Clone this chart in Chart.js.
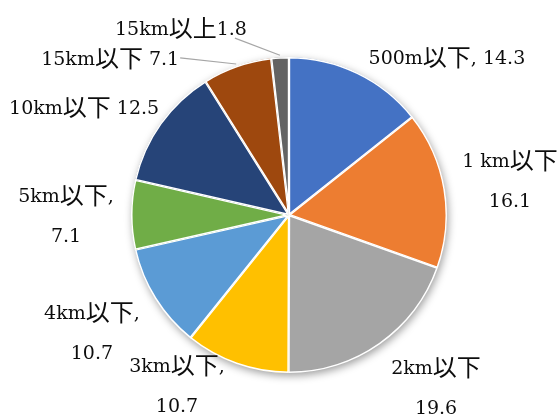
<!DOCTYPE html>
<html>
<head>
<meta charset="utf-8">
<script src="https://cdn.jsdelivr.net/npm/chart.js@4/dist/chart.umd.min.js"></script>
<style>
  html, body { margin: 0; padding: 0; background: #fff; }
  #wrap { width: 557px; height: 417px; }
</style>
</head>
<body>
<div id="wrap"><canvas id="c" width="557" height="417"></canvas></div>
<script>
// Distance bands and their shares (%)
const categories = ['500m以下', '1 km以下', '2km以下', '3km以下', '4km以下', '5km以下', '10km以下', '15km以下', '15km以上'];
const shares = [14.3, 16.1, 19.6, 10.7, 10.7, 7.1, 12.5, 7.1, 1.8];
// Text placed between the band name and its value in each label
const separators = [', ', '\n', '\n', ',\n', ',\n', ',\n', ' ', ' ', ''];

const sliceColors = ['#4472C4', '#ED7D31', '#A5A5A5', '#FFC000', '#5B9BD5', '#70AD47', '#264478', '#9E480E', '#636363'];

// Label placement: [angle nudge in degrees, distance as a multiple of the radius, leader line]
const labelPlacement = [
  [19.2, 1.414, false], [0.5, 1.416, false], [-5.4, 1.432, false],
  [13.9, 1.289, false], [1.2, 1.452, false], [-0.1, 1.411, false],
  [-7.6, 1.466, false], [-29.4, 1.507, true], [-26.8, 1.366, true]
];

const LATIN_FONT = "19px 'DejaVu Serif', 'Liberation Serif', serif";
const CJK_FONT = "24px 'Noto Sans CJK JP', 'Noto Sans CJK SC', sans-serif";
const LINE_GAP = 40;

function splitRuns(text) {
  const runs = [];
  for (const ch of text) {
    const cjk = /[\u3000-\u9fff\uff00-\uffef]/.test(ch);
    if (runs.length && runs[runs.length - 1].cjk === cjk) runs[runs.length - 1].t += ch;
    else runs.push({ t: ch, cjk });
  }
  return runs;
}

function measureMixed(ctx, text) {
  let w = 0;
  for (const r of splitRuns(text)) {
    ctx.font = r.cjk ? CJK_FONT : LATIN_FONT;
    w += ctx.measureText(r.t).width;
  }
  return w;
}

function drawMixed(ctx, text, cx, cy) {
  const total = measureMixed(ctx, text);
  let x = cx - total / 2;
  const baseline = cy + 7;
  for (const r of splitRuns(text)) {
    ctx.font = r.cjk ? CJK_FONT : LATIN_FONT;
    ctx.fillText(r.t, x, r.cjk ? baseline + 2 : baseline);
    x += ctx.measureText(r.t).width;
  }
  return total;
}

// Soft drop shadow behind the whole pie
const pieShadow = {
  id: 'pieShadow',
  beforeDatasetsDraw(chart) {
    const arc = chart.getDatasetMeta(0).data[0];
    if (!arc) return;
    const ctx = chart.ctx;
    ctx.save();
    ctx.shadowColor = 'rgba(0,0,0,0.4)';
    ctx.shadowBlur = 9;
    ctx.shadowOffsetX = 1.5;
    ctx.shadowOffsetY = 3;
    ctx.fillStyle = '#ffffff';
    ctx.beginPath();
    ctx.arc(arc.x, arc.y, arc.outerRadius - 0.5, 0, Math.PI * 2);
    ctx.fill();
    ctx.restore();
  }
};

// Data labels positioned from each arc's own angles and radius
const sliceLabels = {
  id: 'sliceLabels',
  afterDatasetsDraw(chart) {
    const ctx = chart.ctx;
    const arcs = chart.getDatasetMeta(0).data;
    ctx.save();
    ctx.fillStyle = '#0d0d0d';
    ctx.textAlign = 'left';
    ctx.textBaseline = 'alphabetic';
    arcs.forEach((arc, i) => {
      const [nudge, factor, leader] = labelPlacement[i];
      const mid = (arc.startAngle + arc.endAngle) / 2;
      const a = mid + nudge * Math.PI / 180;
      const R = arc.outerRadius;
      const lx = arc.x + Math.cos(a) * R * factor;
      const ly = arc.y + Math.sin(a) * R * factor;
      const text = categories[i] + separators[i] + shares[i].toFixed(1);
      const lines = text.split('\n');
      const top = ly - (lines.length - 1) * LINE_GAP / 2;
      let maxW = 0;
      lines.forEach((ln, k) => {
        maxW = Math.max(maxW, drawMixed(ctx, ln, lx, top + k * LINE_GAP));
      });
      if (leader) {
        const ex = arc.x + Math.cos(mid) * (R + 2);
        const ey = arc.y + Math.sin(mid) * (R + 2);
        const right = lx + maxW / 2;
        const bottom = ly + 10;
        let sx, sy;
        if (ey > bottom) { sx = right - 12; sy = bottom; }
        else { sx = right + 1; sy = ly; }
        ctx.strokeStyle = '#A6A6A6';
        ctx.lineWidth = 1.2;
        ctx.beginPath();
        ctx.moveTo(sx, sy);
        ctx.lineTo(ex, ey);
        ctx.stroke();
      }
    });
    ctx.restore();
  }
};

new Chart(document.getElementById('c'), {
  type: 'pie',
  data: {
    labels: categories,
    datasets: [{
      data: shares,
      backgroundColor: sliceColors,
      borderColor: '#ffffff',
      borderWidth: 1.2,
      borderAlign: 'inner',
      hoverOffset: 0,
      radius: 158
    }]
  },
  options: {
    responsive: false,
    animation: false,
    layout: { padding: { left: 100, right: 79, top: 40, bottom: 27 } },
    plugins: {
      legend: { display: false },
      tooltip: { enabled: false }
    }
  },
  plugins: [pieShadow, sliceLabels]
});
</script>
</body>
</html>
